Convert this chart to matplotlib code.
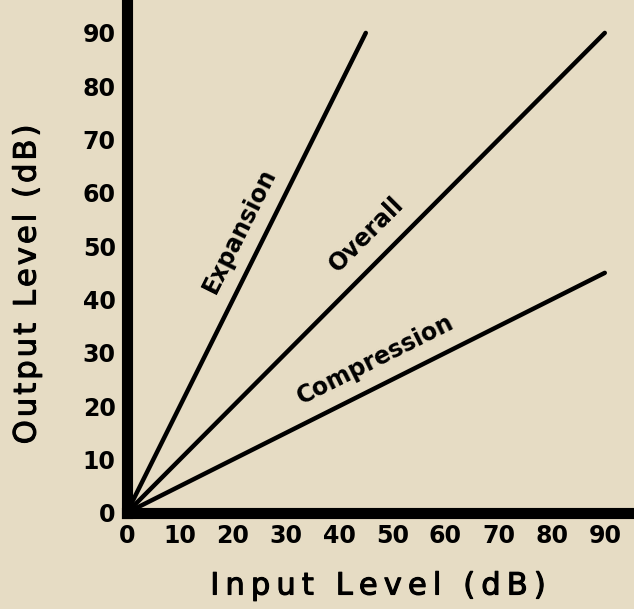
import numpy as np
import matplotlib.pyplot as plt
import matplotlib.patheffects as pe

# level curves (input dB -> output dB)
input_db = [0, 45, 90]
expansion = [0, 90]
overall = [0, 45, 90]
compression = [0, 22.5, 45]

ticks = [0, 10, 20, 30, 40, 50, 60, 70, 80, 90]
curve_labels = ["Expansion", "Overall", "Compression"]
label_pos = [(21.3, 53.0), (45.2, 52.2), (46.9, 28.8)]
slopes = [2.0, 1.0, 0.5]

paper = '#e6dcc4'


def spaced(s, gap):
    # poor man's letter spacing
    return gap.join(s)


fig = plt.figure(figsize=(6.34, 6.09), dpi=100, facecolor=paper)
ax = fig.add_axes([0.200, 0.158, 0.80, 0.837], facecolor=paper)

ax.plot(input_db[:2], expansion, color='black', lw=3.2, solid_capstyle='round')
ax.plot(input_db, overall, color='black', lw=3.2, solid_capstyle='round')
ax.plot(input_db, compression, color='black', lw=3.2, solid_capstyle='round')

for name, (x, y), s in zip(curve_labels, label_pos, slopes):
    ax.text(x, y, name, rotation=np.degrees(np.arctan(s)), rotation_mode='anchor',
            transform_rotates_text=True, ha='center', va='center',
            fontsize=17, fontweight='bold', family='DejaVu Sans')

ax.set_xlim(0, 95.5)
ax.set_ylim(0, 95.6)
ax.set_xticks(ticks)
ax.set_yticks(ticks)
ax.tick_params(length=0, labelsize=17, pad=8)
for lab in ax.get_xticklabels() + ax.get_yticklabels():
    lab.set_fontweight('bold')

for side in ['top', 'right']:
    ax.spines[side].set_visible(False)
for side in ['left', 'bottom']:
    ax.spines[side].set_linewidth(8)
    ax.spines[side].set_capstyle('projecting')

# axis titles, wide-spaced like the original lettering (medium weight)
thicker = [pe.withStroke(linewidth=0.8, foreground='black')]
fig.text(378 / 634, 1 - 586 / 609, spaced('Input Level (dB)', '\u2009'),
         ha='center', va='center', fontsize=22, family='DejaVu Sans',
         path_effects=thicker)
fig.text(27 / 634, 1 - 285 / 609, spaced('Output Level (dB)', '\u200a'),
         ha='center', va='center', rotation=90, fontsize=22, family='DejaVu Sans',
         path_effects=thicker)

fig.savefig('out.png', dpi=100, facecolor=paper)
